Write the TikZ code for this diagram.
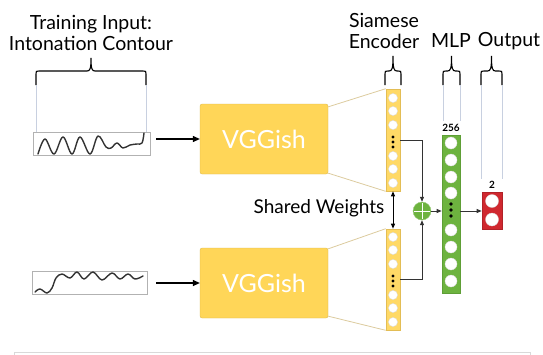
\documentclass[tikz,border=0pt]{standalone}
\usepackage{fontspec}
\setmainfont{Lato}
\usetikzlibrary{arrows.meta}
\definecolor{vyellow}{HTML}{FFD658}
\definecolor{cyellow}{HTML}{FFD966}
\definecolor{cyedge}{HTML}{E3BD55}
\definecolor{mgreen}{HTML}{6DB33F}
\definecolor{mgedge}{HTML}{5E9E36}
\definecolor{ored}{HTML}{D0282F}
\definecolor{tanline}{HTML}{DCCB9E}
\definecolor{guidec}{HTML}{C8D0E0}
\newcommand\drawbrace[6]{% x1 x2 xc ybar ytip yend
 \draw[bracestyle] (#1,#6) -- (#1,{#4+3}) .. controls (#1,#4) .. ({#1+3},#4) -- ({#3-4},#4) .. controls ({#3-1},#4) and (#3,{#4-2}) .. (#3,#5) .. controls (#3,{#4-2}) and ({#3+1},#4) .. ({#3+4},#4) -- ({#2-3},#4) .. controls (#2,#4) .. (#2,{#4+3}) -- (#2,#6);}
\begin{document}
\begin{tikzpicture}[x=1pt,y=-1pt,
  bracestyle/.style={line width=1.1pt,black},
  guide/.style={guidec,line width=0.8pt},
  title/.style={font=\fontsize{19.5}{21}\selectfont,align=center,inner sep=0pt},
  vgg/.style={fill=vyellow,draw=vyellow!85!black,line width=0.3pt,rounded corners=2pt,minimum width=128pt,minimum height=70pt,text=white,font=\fontsize{25}{28}\selectfont,inner sep=0pt},
  cbox/.style={draw=black!30,line width=0.8pt,fill=white,inner sep=0pt},
  enc/.style={fill=cyellow,draw=cyedge,line width=0.6pt,minimum width=14pt,inner sep=0pt},
  mlp/.style={fill=mgreen,draw=mgedge,line width=0.6pt,minimum width=18pt,minimum height=158pt,inner sep=0pt},
  outb/.style={fill=ored,draw=ored!85!black,line width=0.6pt,minimum width=20pt,minimum height=37pt,inner sep=0pt},
  plusn/.style={circle,fill=mgreen,draw=mgreen!70!white,minimum size=18pt,inner sep=0pt},
  arr/.style={line width=1.2pt,-{Triangle[length=7pt,width=6pt]}},
  conn/.style={line width=0.8pt,black!80,-{Triangle[length=5pt,width=4pt]}},
  tanl/.style={tanline,line width=0.8pt},
  wave/.style={line width=1.4pt,black!80,line cap=round,line join=round},
  lbl/.style={font=\bfseries\fontsize{10}{11}\selectfont,inner sep=0pt},
  wcirc/.style={fill=white,draw=black!15,line width=0.3pt}
]
\useasboundingbox (0,0) rectangle (543,354);

% titles
\node[title] (t1) at (91,32.5) {Training Input:\\Intonation Contour};
\node[title] (t2) at (384,30.5) {Siamese\\Encoder};
\node[title] (t3) at (451,41) {MLP};
\node[title] (t4) at (509,41) {Output};

% braces
\drawbrace{36}{146}{91}{71}{58}{85}
\drawbrace{385}{401}{393}{71}{56}{85}
\drawbrace{443}{460}{451.5}{71}{56}{85}
\drawbrace{481}{502}{491.5}{71}{56}{85}

% input boxes
\node[cbox,minimum width=117pt,minimum height=23pt] (c1) at (91.5,143.5) {};
\node[cbox,minimum width=115pt,minimum height=23pt] (c2) at (89.5,282.5) {};

% guides
\draw[guide] (36,85) -- (36,132);
\draw[guide] (146,85) -- (146,132);

% waves
\draw[wave] plot[smooth,tension=0.6] coordinates {(38,154) (45,139) (54,154) (63,137) (72,154) (80,137) (90,154) (98,136) (106,147) (111,148) (117,143) (123,148) (130,145) (137,144) (142,143) (144,133)};
\draw[wave] plot[smooth,tension=0.6] coordinates {(35,292) (40,289) (47,293) (52,288) (56,278) (62,274) (70,278) (77,272) (84,279) (93,272) (102,280) (112,273) (120,279) (128,274) (135,279) (143,276)};

% VGGish
\node[vgg] (v1) at (264,139) {VGGish};
\node[vgg] (v2) at (264,283) {VGGish};

\draw[arr] ([xshift=6pt]c1.east |- v1.west) -- (v1.west);
\draw[arr] ([xshift=9pt]c2.east |- v2.west) -- (v2.west);

% encoder columns
\node[enc,minimum height=102pt] (e1) at (393,140) {};
\node[enc,minimum height=101pt] (e2) at (393,279.5) {};

\draw[tanl] ([yshift=-3pt]v1.north east) -- (e1.north west);
\draw[tanl] ([yshift=1pt]v1.south east) -- (e1.south west);
\draw[tanl] ([yshift=-1pt]v2.north east) -- (e2.north west);
\draw[tanl] ([yshift=2pt]v2.south east) -- (e2.south west);

\foreach \y in {98,111,125,156,169,183} \filldraw[wcirc] (393,\y) circle (4.6);
\foreach \y in {137,142,147} \fill (393,\y) circle (1.6);
\foreach \y in {237,250,264,295,308,322} \filldraw[wcirc] (393,\y) circle (4.6);
\foreach \y in {276,281,286} \fill (393,\y) circle (1.6);

\draw[line width=0.9pt,{Triangle[length=5pt,width=4pt]}-{Triangle[length=5pt,width=4pt]}] (e1.south) -- (e2.north);

\node[font=\fontsize{19}{21}\selectfont,inner sep=0pt] (sw) at (319,208) {Shared Weights};

% plus
\node[plusn] (p) at (422,211) {};
\draw[white,line width=0.9pt] ([yshift=-1pt]p.north) -- ([yshift=1pt]p.south) ([xshift=1pt]p.west) -- ([xshift=-1pt]p.east);

\draw[conn] (e1.east) -| (p.north);
\draw[conn] (e2.east) -| (p.south);

% MLP
\node[mlp] (m) at (451,214) {};
\node[lbl] (l256) at (451,128) {256};
\draw[guide] (443,85) -- (443,121);
\draw[guide] (460,85) -- (460,121);
\foreach \y in {143,160,177,193,230,247,264,281} \filldraw[wcirc] (451,\y) circle (6);
\foreach \y in {204,210,216} \fill (451,\y) circle (1.9);

% output
\node[outb] (o) at (492,210.5) {};
\node[lbl] (l2) at (492,184.5) {2};
\draw[guide] (481,85) -- (481,179);
\draw[guide] (502,85) -- (502,179);
\filldraw[wcirc] (492,201) circle (6.5);
\filldraw[wcirc] (492,219.5) circle (6.5);

\draw[conn] (p.east) -- (p.east -| m.west);
\draw[conn] (p.east -| m.east) -- (p.east -| o.west);

% bottom panel edge
\draw[black!15,line width=0.8pt] (14,360) -- (14,352) -- (530,352) -- (530,360);
\end{tikzpicture}
\end{document}
